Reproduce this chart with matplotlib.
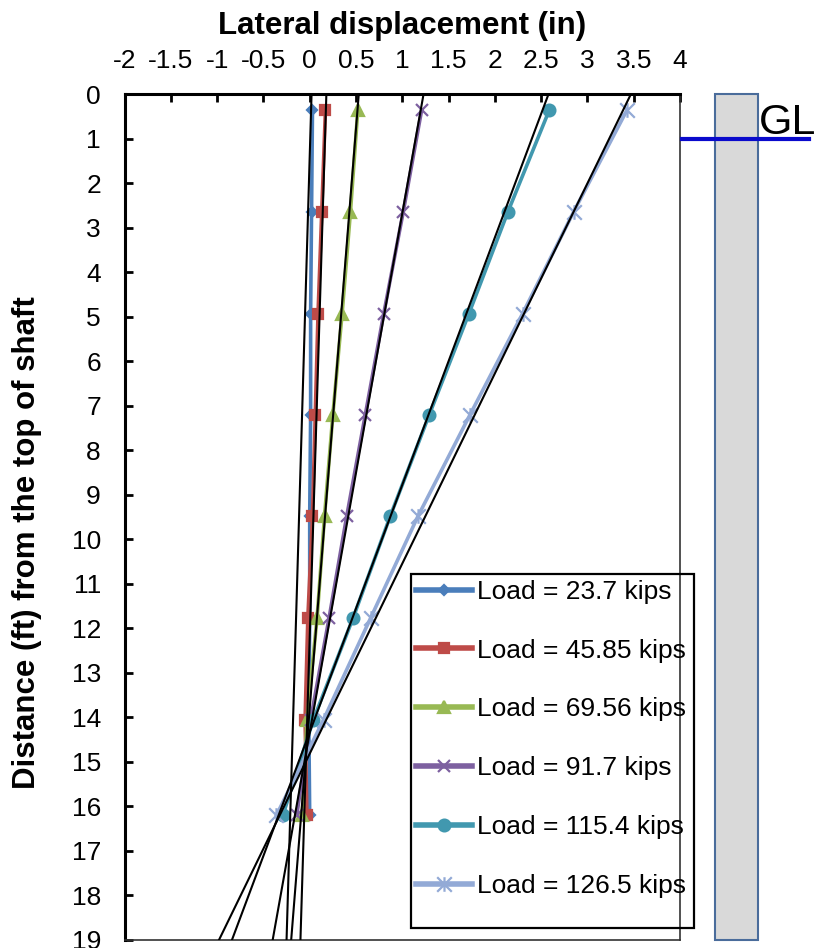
import matplotlib
matplotlib.use("Agg")
import matplotlib.pyplot as plt
from matplotlib.path import Path
from matplotlib.patches import Rectangle
from matplotlib.transforms import blended_transform_factory

plt.rcParams['font.family'] = ['Liberation Sans', 'DejaVu Sans']

# depth of the gauges below the top of the shaft (ft)
depth = [0.35, 2.65, 4.93, 7.21, 9.48, 11.76, 14.05, 16.2]

labels = ['Load = 23.7 kips', 'Load = 45.85 kips', 'Load = 69.56 kips',
          'Load = 91.7 kips', 'Load = 115.4 kips', 'Load = 126.5 kips']

# lateral displacement (in) for each load
disp_237 = [0.03, 0.02, 0.01, 0.01, 0.0, 0.0, -0.01, 0.0]
disp_4585 = [0.17, 0.13, 0.09, 0.06, 0.03, -0.02, -0.05, -0.03]
disp_6956 = [0.52, 0.44, 0.35, 0.25, 0.16, 0.08, -0.03, -0.08]
disp_917 = [1.21, 1.01, 0.80, 0.60, 0.40, 0.21, 0.01, -0.14]
disp_1154 = [2.59, 2.14, 1.72, 1.29, 0.87, 0.47, 0.04, -0.29]
disp_1265 = [3.43, 2.85, 2.30, 1.73, 1.17, 0.66, 0.15, -0.36]

# straight-line fits, given at the top (0 ft) and bottom (19 ft)
fit_depth = [0, 19]
fit_top = [0.02, 0.18, 0.53, 1.23, 2.58, 3.47]
fit_bottom = [-0.25, -0.10, -0.20, -0.40, -0.84, -0.98]

gl_depth = 1.0
shaft_depth = [0, 19]

asterisk = Path([(0, -1), (0, 1), (-1, -1), (1, 1), (-1, 1), (1, -1)],
                [Path.MOVETO, Path.LINETO] * 3)

series = [disp_237, disp_4585, disp_6956, disp_917, disp_1154, disp_1265]
colors = ['#4A7EBB', '#BE4B48', '#98B954', '#7D60A0', '#4198AF', '#93AAD6']
markers = ['D', 's', '^', 'x', 'o', asterisk]
msizes = [5.5, 7, 8.5, 9, 8.5, 10.5]

fig = plt.figure(figsize=(8.15, 9.48), dpi=100)
ax = fig.add_axes([0.1528, 0.00844, 0.6816, 0.8924])

handles = []
for vals, c, m, ms, lab in zip(series, colors, markers, msizes, labels):
    h, = ax.plot(vals, depth, color=c, lw=2.6, marker=m, ms=ms,
                 mew=1.6, mec=c, mfc=c, label=lab, zorder=3)
    handles.append(h)

for t, b in zip(fit_top, fit_bottom):
    ax.plot([t, b], fit_depth, color='black', lw=1.5, zorder=4)

ax.set_xlim(-2, 4)
ax.set_ylim(19, 0)
ax.xaxis.tick_top()
ax.xaxis.set_label_position('top')
xt = [-2 + 0.5 * i for i in range(13)]
ax.set_xticks(xt)
ax.set_xticklabels([f"{v:g}" for v in xt])
ax.set_yticks(range(20))
ax.tick_params(axis='both', direction='in', length=6, width=2, labelsize=19)
ax.tick_params(axis='x', pad=15, top=True, bottom=False)
ax.tick_params(axis='y', pad=17)

for s in ['top', 'left']:
    ax.spines[s].set_linewidth(2.2)
for s in ['right', 'bottom']:
    ax.spines[s].set_linewidth(1.2)
    ax.spines[s].set_color('#333333')

ax.set_xlabel('Lateral displacement (in)', fontsize=22.5, fontweight='bold')
ax.xaxis.set_label_coords(0.5, 1.071)
ax.set_ylabel('Distance (ft) from the top of shaft', fontsize=22.5, fontweight='bold')
ax.yaxis.set_label_coords(-0.148, 0.47)

# legend with a taller frame, as in the original
leg = ax.legend(handles=handles, loc='upper left', bbox_to_anchor=(0.516, 0.432),
                frameon=False, fontsize=19, handlelength=2.1, handletextpad=0.2,
                labelspacing=1.32, borderpad=0.2, borderaxespad=0)
for lh in leg.legend_handles:
    lh.set_linewidth(4)
ax.add_patch(Rectangle((0.516, 0.0142), 0.509, 0.4184, transform=ax.transAxes,
                       fill=False, ec='black', lw=1.6, clip_on=False, zorder=5))

# shaft and ground line to the right of the plot
tr = blended_transform_factory(fig.transFigure, ax.transData)
fig.add_artist(Rectangle((0.8773, shaft_depth[0]), 0.0528, shaft_depth[1] - shaft_depth[0],
                         transform=tr, fc='#D9D9D9', ec='#4A6C9B', lw=1.5))
fig.add_artist(plt.Line2D([0.8368, 0.9926], [gl_depth, gl_depth], transform=tr,
                          color='#0A0ACC', lw=3))
fig.text(0.931, gl_depth - 0.1, 'GL', transform=tr, fontsize=31, va='baseline', ha='left')

fig.savefig('out.png', dpi=100)
